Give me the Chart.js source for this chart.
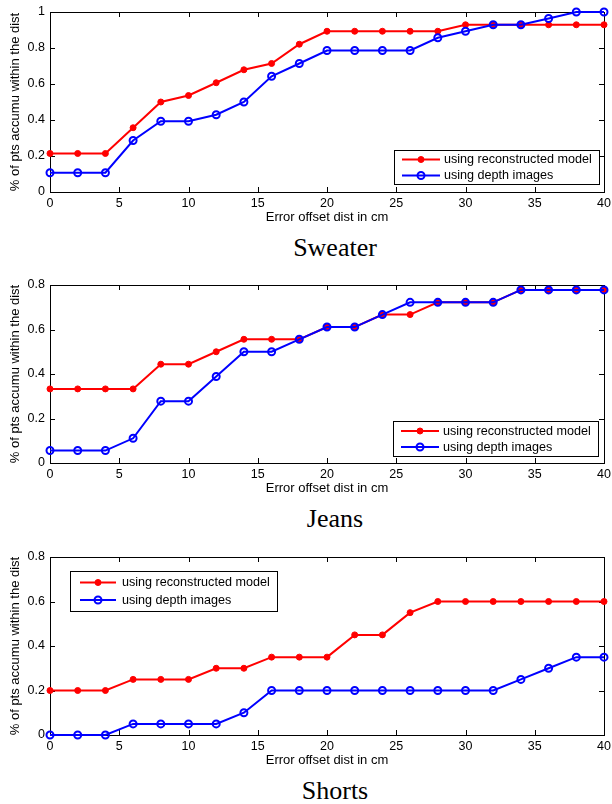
<!DOCTYPE html>
<html>
<head>
<meta charset="utf-8">
<script src="https://cdn.jsdelivr.net/npm/chart.js@4.4.1/dist/chart.umd.min.js"></script>
<style>
  body { margin: 0; background: #fff; }
  #page { position: relative; width: 612px; height: 804px; overflow: hidden; }
  canvas { position: absolute; left: 0; }
  .caption {
    position: absolute; left: 58px; width: 554px; text-align: center;
    font: 26px/26px 'Liberation Serif', 'Times New Roman', serif; color: #000;
  }
</style>
</head>
<body>
<div id="page">
  <canvas id="sweater" width="612" height="226" style="top:0px"></canvas>
  <div class="caption" style="top:235px">Sweater</div>
  <canvas id="jeans" width="612" height="224" style="top:273px"></canvas>
  <div class="caption" style="top:506px">Jeans</div>
  <canvas id="shorts" width="612" height="224" style="top:545px"></canvas>
  <div class="caption" style="top:778px">Shorts</div>
</div>
<script>
// error offset distance (cm)
const dist = [0, 2, 4, 6, 8, 10, 12, 14, 16, 18, 20, 22, 24, 26, 28, 30, 32, 34, 36, 38, 40];

// Sweater
const sweaterModel = [0.214, 0.214, 0.214, 0.357, 0.5, 0.536, 0.607, 0.679, 0.714, 0.821, 0.893,
                      0.893, 0.893, 0.893, 0.893, 0.929, 0.929, 0.929, 0.929, 0.929, 0.929];
const sweaterDepth = [0.107, 0.107, 0.107, 0.286, 0.393, 0.393, 0.429, 0.5, 0.643, 0.714, 0.786,
                      0.786, 0.786, 0.786, 0.857, 0.893, 0.929, 0.929, 0.964, 1, 1];

// Jeans
const jeansModel = [0.333, 0.333, 0.333, 0.333, 0.444, 0.444, 0.5, 0.556, 0.556, 0.556, 0.611,
                    0.611, 0.667, 0.667, 0.722, 0.722, 0.722, 0.778, 0.778, 0.778, 0.778];
const jeansDepth = [0.056, 0.056, 0.056, 0.111, 0.278, 0.278, 0.389, 0.5, 0.5, 0.556, 0.611,
                    0.611, 0.667, 0.722, 0.722, 0.722, 0.722, 0.778, 0.778, 0.778, 0.778];

// Shorts
const shortsModel = [0.2, 0.2, 0.2, 0.25, 0.25, 0.25, 0.3, 0.3, 0.35, 0.35, 0.35,
                     0.45, 0.45, 0.55, 0.6, 0.6, 0.6, 0.6, 0.6, 0.6, 0.6];
const shortsDepth = [0, 0, 0, 0.05, 0.05, 0.05, 0.05, 0.1, 0.2, 0.2, 0.2,
                     0.2, 0.2, 0.2, 0.2, 0.2, 0.2, 0.25, 0.3, 0.35, 0.35];

const seriesNames = ['using reconstructed model', 'using depth images'];
const xTitle = 'Error offset dist in cm';
const yTitle = '% of pts accumu within the dist';

Chart.defaults.font.family = "'Liberation Sans', Arial, Helvetica, sans-serif";
Chart.defaults.color = '#000';

// box + inward ticks on all four sides, drawn under the data (matlab style)
const matlabAxes = {
  id: 'matlabAxes',
  beforeDatasetsDraw(chart) {
    const { ctx, chartArea: a, scales: { x, y } } = chart;
    const len = 5;
    ctx.save();
    ctx.strokeStyle = '#000';
    ctx.lineWidth = 1;
    ctx.beginPath();
    x.ticks.forEach(t => {
      const px = Math.round(x.getPixelForValue(t.value)) + 0.5;
      ctx.moveTo(px, a.bottom); ctx.lineTo(px, a.bottom - len);
      ctx.moveTo(px, a.top); ctx.lineTo(px, a.top + len);
    });
    y.ticks.forEach(t => {
      const py = Math.round(y.getPixelForValue(t.value)) + 0.5;
      ctx.moveTo(a.left, py); ctx.lineTo(a.left + len, py);
      ctx.moveTo(a.right, py); ctx.lineTo(a.right - len, py);
    });
    ctx.stroke();
    ctx.strokeRect(Math.round(a.left) + 0.5, Math.round(a.top) + 0.5,
                   Math.round(a.right - a.left), Math.round(a.bottom - a.top));
    ctx.restore();
  }
};

// legend in a box inside the plot
const boxLegend = {
  id: 'boxLegend',
  afterDraw(chart, args, opts) {
    const { ctx } = chart;
    const b = opts.box;
    ctx.save();
    ctx.fillStyle = '#fff';
    ctx.fillRect(b.x, b.y, b.w, b.h);
    ctx.strokeStyle = '#000';
    ctx.lineWidth = 1;
    ctx.strokeRect(b.x + 0.5, b.y + 0.5, b.w, b.h);
    chart.data.datasets.forEach((ds, i) => {
      const yy = b.y + opts.rows[i];
      const x0 = b.x + opts.line[0], x1 = b.x + opts.line[1];
      ctx.strokeStyle = ds.borderColor;
      ctx.lineWidth = ds.borderWidth;
      ctx.beginPath(); ctx.moveTo(x0, yy); ctx.lineTo(x1, yy); ctx.stroke();
      ctx.beginPath();
      ctx.arc((x0 + x1) / 2, yy, ds.pointRadius, 0, Math.PI * 2);
      ctx.fillStyle = ds.pointBackgroundColor;
      ctx.fill();
      ctx.lineWidth = ds.pointBorderWidth;
      ctx.strokeStyle = ds.pointBorderColor;
      ctx.stroke();
      ctx.fillStyle = '#000';
      ctx.font = "12.6px 'Liberation Sans', Arial, sans-serif";
      ctx.textBaseline = 'middle';
      ctx.fillText(ds.label, b.x + opts.textX, yy + 0.5);
    });
    ctx.restore();
  }
};

const toPoints = vals => vals.map((v, i) => ({ x: dist[i], y: v }));

function makePlot(id, modelVals, depthVals, yMax, legend) {
  return new Chart(document.getElementById(id), {
    type: 'line',
    data: {
      datasets: [
        {
          label: seriesNames[0],
          data: toPoints(modelVals),
          borderColor: '#ff0000',
          borderWidth: 2,
          pointRadius: 3,
          pointBorderWidth: 1,
          pointBackgroundColor: '#ff0000',
          pointBorderColor: '#ff0000',
          tension: 0,
          clip: false,
          order: 1,
        },
        {
          label: seriesNames[1],
          data: toPoints(depthVals),
          borderColor: '#0000ff',
          borderWidth: 2,
          pointRadius: 3.5,
          pointBorderWidth: 2,
          pointBackgroundColor: 'rgba(0,0,0,0)',
          pointBorderColor: '#0000ff',
          tension: 0,
          clip: false,
          order: 0,
        },
      ],
    },
    options: {
      responsive: false,
      animation: false,
      layout: { padding: { top: 12, right: 8, left: 0, bottom: 0 } },
      scales: {
        x: {
          type: 'linear',
          min: 0,
          max: 40,
          grid: { display: false, drawTicks: false, tickLength: 0 },
          border: { display: false },
          ticks: { stepSize: 5, padding: 4, maxRotation: 0, font: { size: 12.5 } },
          title: { display: true, text: xTitle, font: { size: 13 }, padding: { top: 0, bottom: 1 } },
          afterFit(s) { s.height = 34; s.paddingLeft = 0; s.paddingRight = 0; },
        },
        y: {
          min: 0,
          max: yMax,
          grid: { display: false, drawTicks: false, tickLength: 0 },
          border: { display: false },
          ticks: { stepSize: 0.2, padding: 5, font: { size: 12.5 }, callback: v => String(+v.toFixed(1)) },
          title: { display: true, text: yTitle, font: { size: 13 }, padding: { top: 8, bottom: 0 } },
          afterFit(s) { s.width = 50; s.paddingTop = 0; s.paddingBottom = 0; },
        },
      },
      plugins: {
        legend: { display: false },
        tooltip: { enabled: false },
        boxLegend: legend,
      },
    },
    plugins: [matlabAxes, boxLegend],
  });
}

makePlot('sweater', sweaterModel, sweaterDepth, 1,
  { box: { x: 394, y: 150, w: 205, h: 34 }, rows: [9.5, 25.5], line: [8, 46], textX: 50 });
makePlot('jeans', jeansModel, jeansDepth, 0.8,
  { box: { x: 393, y: 148, w: 205, h: 35 }, rows: [10, 26], line: [8, 46], textX: 50 });
makePlot('shorts', shortsModel, shortsDepth, 0.8,
  { box: { x: 70, y: 26, w: 207, h: 40 }, rows: [11.5, 29], line: [10, 46], textX: 52 });
</script>
</body>
</html>
